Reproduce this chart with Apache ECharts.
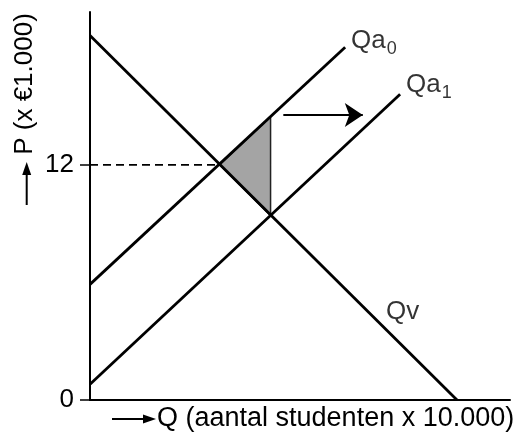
<!DOCTYPE html>
<html>
<head>
<meta charset="utf-8">
<script src="https://cdn.jsdelivr.net/npm/echarts@6.0.0/dist/echarts.min.js"></script>
<style>
  html, body { margin: 0; padding: 0; background: #fff; }
  #chart { width: 515px; height: 437px; }
</style>
</head>
<body>
<div id="chart"></div>
<script>
// curves (Q, P)
const qvLine = [[0, 18.6], [18.7, 0]]
const qa0Line = [[0, 5.9], [13.0, 18.0]]
const qa1Line = [[0, 0.8], [15.8, 15.6]]
const priceLine = [[0, 12], [6.6, 12]]
const shadedArea = [[6.6, 12], [9.2, 14.46], [9.2, 9.4]]
const shiftArrow = [[9.85, 14.54], [13.9, 14.54]]

// tick labels on the P axis
const pTicks = [0, 12]

// curve names
const curveNames = ['Qa', 'Qa', 'Qv']
const curveSubs = ['0', '1', '']
const curveAnchors = [[13.3, 18.32], [16.1, 16.07], [15.08, 4.49]]

const font = 'Liberation Sans'
const black = '#000'

const labelData = curveNames.map((n, i) => ({ name: n, sub: curveSubs[i], value: curveAnchors[i] }))

function lineSeries(data, width, dash) {
  return {
    type: 'line',
    data: data,
    symbol: 'none',
    silent: true,
    animation: false,
    lineStyle: { color: black, width: width, type: dash || 'solid' }
  }
}

const option = {
  animation: false,
  grid: { left: 90, top: 12, width: 420, height: 388, outerBoundsMode: 'none' },
  xAxis: {
    type: 'value',
    min: 0,
    max: 21.4,
    axisLine: { show: true, onZero: false, lineStyle: { color: black, width: 2 } },
    axisTick: { show: false },
    axisLabel: { show: false },
    splitLine: { show: false }
  },
  yAxis: {
    type: 'value',
    min: 0,
    max: 19.8,
    axisLine: { show: true, onZero: false, lineStyle: { color: black, width: 2 } },
    axisTick: { show: true, customValues: pTicks, length: 10, lineStyle: { color: black, width: 1.5 } },
    axisLabel: { show: true, customValues: pTicks, margin: 16, color: black, fontSize: 26, fontFamily: font },
    splitLine: { show: false }
  },
  series: [
    {
      type: 'custom',
      silent: true,
      data: [0],
      renderItem: function (params, api) {
        const pts = shadedArea.map(p => api.coord(p))
        return {
          type: 'polygon',
          shape: { points: pts },
          style: { fill: '#a4a4a4', stroke: '#222', lineWidth: 1.5 }
        }
      }
    },
    lineSeries(priceLine, 1.6, [8, 5]),
    lineSeries(qvLine, 2.8),
    lineSeries(qa0Line, 2.8),
    lineSeries(qa1Line, 2.8),
    {
      type: 'lines',
      coordinateSystem: 'cartesian2d',
      silent: true,
      symbol: ['none', 'arrow'],
      symbolSize: [16, 18],
      lineStyle: { color: black, width: 2.2, opacity: 1 },
      data: [{ coords: shiftArrow }]
    },
    {
      type: 'scatter',
      silent: true,
      symbolSize: 0,
      data: labelData,
      label: {
        show: true,
        position: 'right',
        distance: 0,
        color: black,
        fontFamily: font,
        formatter: p => p.data.sub ? '{m|' + p.data.name + '}{s|' + p.data.sub + '}' : '{m|' + p.data.name + '}',
        rich: {
          m: { fontSize: 26, fontFamily: font, color: black },
          s: { fontSize: 18, fontFamily: font, color: black, padding: [16, 0, 0, 1] }
        }
      }
    }
  ],
  graphic: [
    {
      type: 'text',
      x: 157, y: 419,
      style: { text: 'Q (aantal studenten x 10.000)', font: '27px "Liberation Sans"', fill: black, align: 'left', verticalAlign: 'middle' }
    },
    { type: 'line', shape: { x1: 112, y1: 419, x2: 146, y2: 419 }, style: { stroke: black, lineWidth: 2 } },
    { type: 'polygon', shape: { points: [[143, 414.5], [156, 419], [143, 423.5]] }, style: { fill: black } },
    {
      type: 'text',
      x: 25, y: 84,
      rotation: Math.PI / 2,
      style: { text: 'P (x €1.000)', font: '26px "Liberation Sans"', fill: black, align: 'center', verticalAlign: 'middle' }
    },
    { type: 'line', shape: { x1: 26.7, y1: 205, x2: 26.7, y2: 172 }, style: { stroke: black, lineWidth: 2 } },
    { type: 'polygon', shape: { points: [[22.2, 175], [26.7, 162], [31.2, 175]] }, style: { fill: black } }
  ]
}

const chart = echarts.init(document.getElementById('chart'))
chart.setOption(option)
</script>
</body>
</html>
